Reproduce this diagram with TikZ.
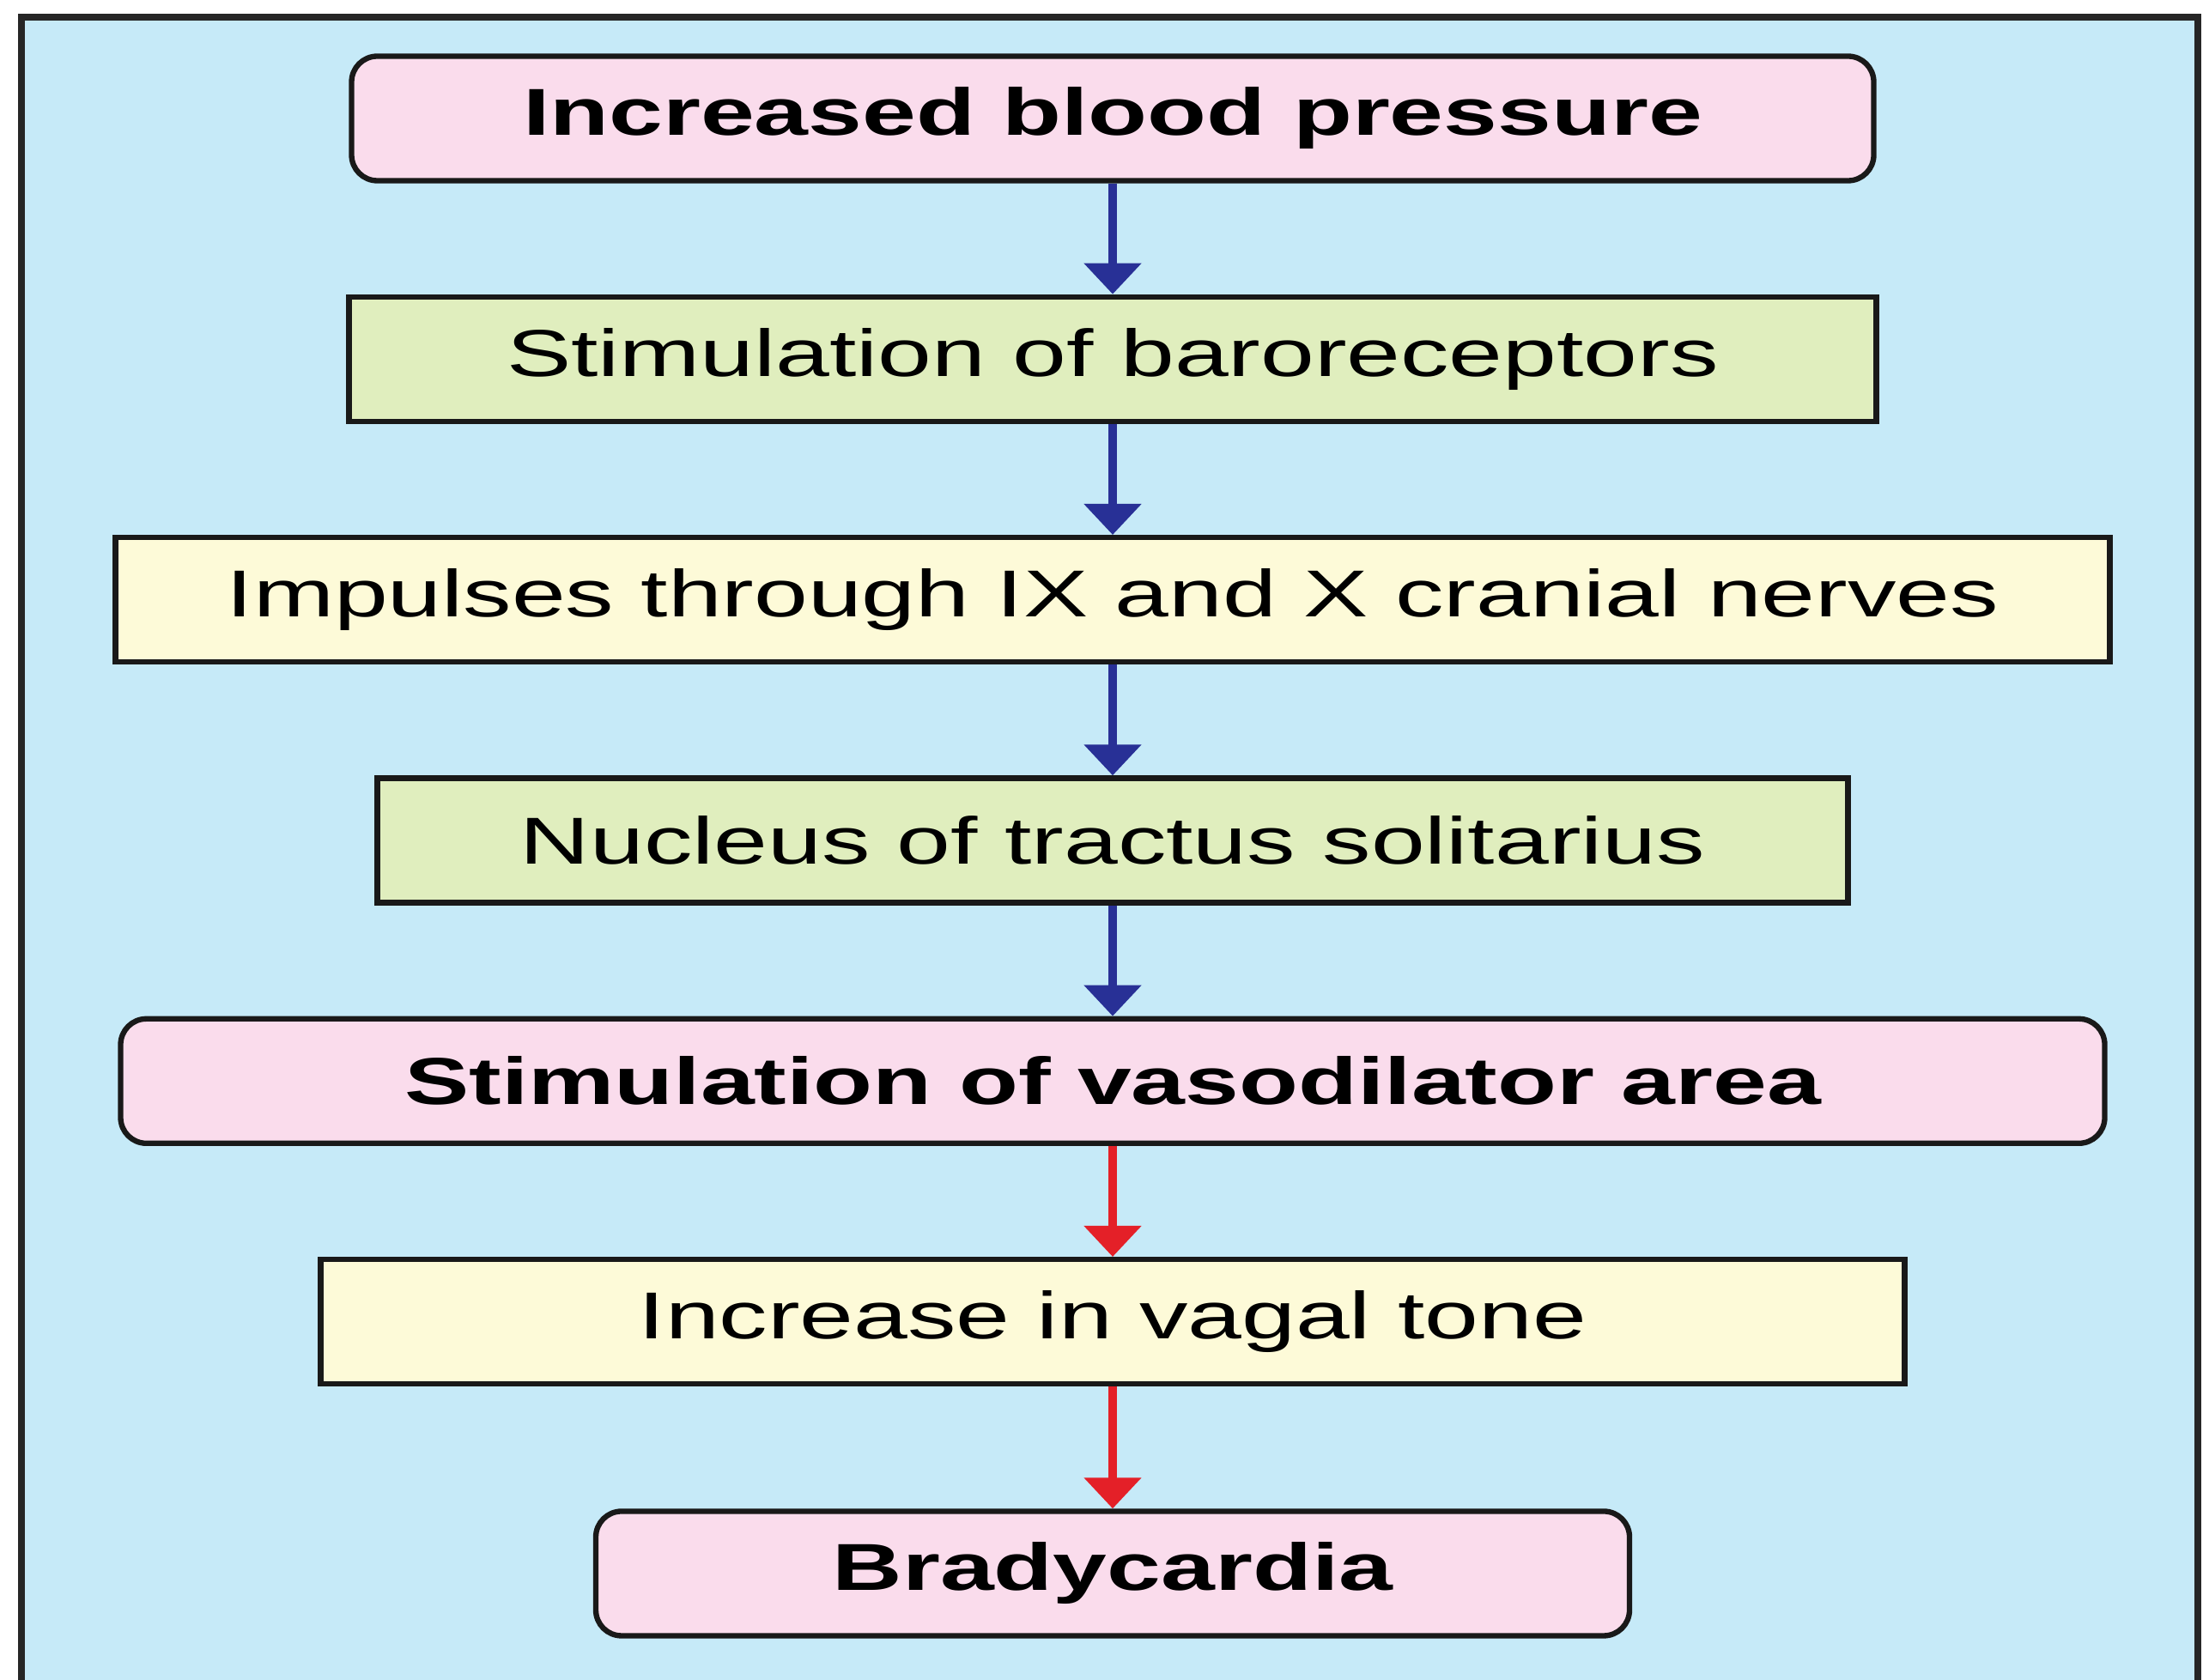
\documentclass[tikz,border=0pt]{standalone}
\usepackage{fontspec}
\setmainfont{Liberation Sans}
\newfontfamily\widesans[FakeStretch=1.46]{Liberation Sans}
\definecolor{panelblue}{RGB}{198,234,248}
\definecolor{boxpink}{RGB}{250,220,236}
\definecolor{boxgreen}{RGB}{224,238,190}
\definecolor{boxcream}{RGB}{253,250,216}
\definecolor{flowblue}{RGB}{40,48,150}
\definecolor{flowred}{RGB}{228,32,40}
\usetikzlibrary{arrows.meta, positioning}

\begin{document}
\begin{tikzpicture}[
  node distance=1.29cm,
  stepbox/.style={draw=black!90, line width=1.8pt, minimum height=1.45cm, inner sep=0pt, font=\fontsize{22}{26}\widesans},
  pinkbox/.style={stepbox, fill=boxpink, rounded corners=0.3cm, font=\fontsize{22}{26}\widesans\bfseries},
  greenbox/.style={stepbox, fill=boxgreen},
  creambox/.style={stepbox, fill=boxcream},
  blueflow/.style={draw=flowblue, fill=flowblue, line width=2.8pt, -{Triangle[width=0.65cm, length=0.36cm]}},
  redflow/.style={blueflow, draw=flowred, fill=flowred}
]
  \useasboundingbox (0,0) rectangle (25.73,19.56);
  \clip (0,0) rectangle (25.73,19.56);

  % panel behind the chart (its lower edge runs off the page)
  \fill[panelblue] (0.25,-0.5) rectangle (25.60,19.36);
  \draw[black!85, line width=2.4pt] (0.25,-0.5) -- (0.25,19.36) -- (25.60,19.36) -- (25.60,-0.5);

  \node[pinkbox, minimum width=17.73cm] (press) at (12.96,18.18) {Increased blood pressure};
  \node[greenbox, minimum width=17.79cm, below=of press] (baro) {Stimulation of baroreceptors};
  \node[creambox, minimum width=23.23cm, below=of baro] (nerves) {Impulses through IX and X cranial nerves};
  \node[greenbox, minimum width=17.13cm, below=of nerves] (nts) {Nucleus of tractus solitarius};
  \node[pinkbox, minimum width=23.11cm, below=of nts] (vaso) {Stimulation of vasodilator area};
  \node[creambox, minimum width=18.45cm, below=of vaso] (vagal) {Increase in vagal tone};
  \node[pinkbox, minimum width=12.04cm, below=1.42cm of vagal] (brady) {Bradycardia};

  \draw[blueflow] (press) -- (baro);
  \draw[blueflow] (baro) -- (nerves);
  \draw[blueflow] (nerves) -- (nts);
  \draw[blueflow] (nts) -- (vaso);
  \draw[redflow] (vaso) -- (vagal);
  \draw[redflow] (vagal) -- (brady);
\end{tikzpicture}
\end{document}
